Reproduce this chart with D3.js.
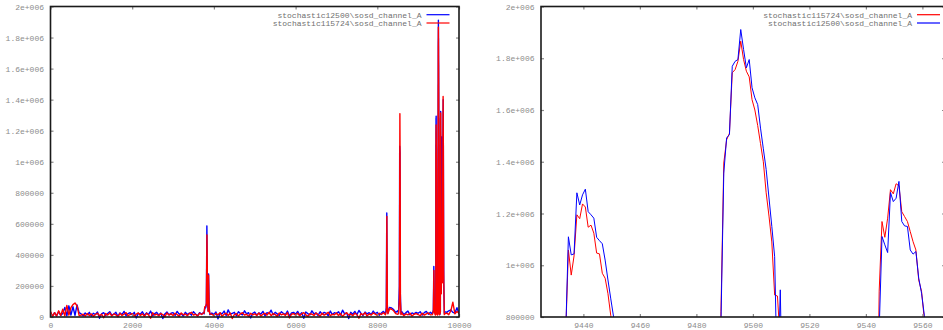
<!DOCTYPE html>
<html>
<head>
<meta charset="utf-8">
<script src="https://cdn.jsdelivr.net/npm/d3@7/dist/d3.min.js"></script>
<style>
    body { margin: 0; background: #fff; }
    svg { display: block; }
    .tick text { font-family: "Liberation Mono", "DejaVu Sans Mono", monospace; font-size: 8px; fill: #8c8c8c; }
    .tick line { stroke: #888; stroke-width: 1.2; }
    .legend-text { font-family: "Liberation Mono", "DejaVu Sans Mono", monospace; font-size: 8px; fill: #707070; }
</style>
</head>
<body>
<svg id="chart" width="943" height="330"></svg>
<script>
const blueLabel = "stochastic12500\\sosd_channel_A";
const redLabel = "stochastic115724\\sosd_channel_A";

// all values below are in thousands
// quiet baseline, one value every 50 samples (0 .. 10000)
const baseStep = 50;
const blueBase = [
    30, 5, 28, 8, 35, 10, 22, 62, 8, 72, 12, 66, 10, 78, 28, 20, 8, 26, 14, 30,
    6, 24, 16, 32, -8, 20, 28, 10, 22, 34, 12, 18, 30, 4, 26, 16, 36, 9, 22, 28,
    14, 30, -6, 24, 18, 34, 10, 27, 16, 38, 8, 22, 30, 12, 26, -10, 20, 32, 14, 24,
    28, 10, 36, 18, 22, 6, 30, 16, 26, 12, 34, 20, 8, 28, 18, 30, 24, 40, 22, 26,
    16, 32, -12, 26, 20, 38, 10, 46, 18, 24, 30, 8, 34, 22, 14, 40, 20, 28, -6, 24,
    32, 12, 26, 18, 36, 8, 28, 22, 44, 14, 30, 20, 10, 34, 24, 16, 38, 6, 26, 30,
    18, 36, 12, 28, -8, 32, 22, 14, 40, 20, 26, 10, 34, 18, 30, 24, 8, 38, 16, 28,
    22, 34, 12, 44, 20, 26, -10, 30, 18, 36, 14, 42, 24, 10, 32, 20, 28, 16, 38, 22,
    30, 12, 26, 36, 20, 28, 62, 58, 48, 30, 40, 22, 34, 16, 28, 38, 14, 26, 20, 30,
    24, 34, 12, 28, 36, 18, 30, 26, 22, 20, 15, 10, 25, 35, 30, 40, 45, 30, 25, 60,
    20
];
const redBase = [
    35, 4, 28, 6, 40, 10, 50, 8, 75, 12, 60, 80, 90, 72, 10, 12, 18, 6, 22, 10,
    20, 4, 16, 24, 8, 18, -5, 22, 12, 26, 6, 20, 14, 2, 24, 10, 18, 28, 8, 16,
    22, 6, 18, 26, 10, 20, 4, 24, 14, -8, 28, 12, 18, 8, 22, 16, 2, 26, 12, 20,
    10, 24, 16, 4, 26, 14, 20, 8, 22, 30, 12, 18, 6, 24, 16, 28, 10, 20, 14, 18,
    8, 22, 14, 28, 4, 18, 24, 10, 26, -10, 16, 22, 6, 20, 28, 12, 18, 4, 24, 14,
    20, 10, 26, 6, 18, 24, 12, 30, 8, 22, 16, 4, 26, 14, 20, 10, 28, -6, 18, 22,
    12, 24, 8, 20, 28, 14, 4, 22, 18, 10, 26, 16, 6, 24, 12, 20, 30, 8, 18, 14,
    26, 10, 22, 4, 18, 28, 12, 20, 8, 24, 16, -8, 22, 14, 28, 6, 20, 12, 26, 18,
    10, 24, 16, 28, 12, 20, 55, 50, 40, 22, 18, 12, 26, 8, 20, 14, 24, 6, 18, 22,
    16, 8, 24, 12, 20, 26, 14, 18, 10, 12, 8, 14, 30, 20, 25, 15, 40, 95, 20, 35,
    25
];

// isolated spikes, [sample, value]
const blue3800 = [[3760, 20], [3775, 55], [3800, 60], [3815, 80], [3828, 587], [3845, 110], [3856, 40], [3870, 277], [3885, 60], [3900, 15]];
const red3800 = [[3760, 25], [3776, 66], [3800, 70], [3816, 90], [3830, 529], [3846, 100], [3858, 35], [3868, 270], [3884, 50], [3900, 20]];
const blue8230 = [[8200, 20], [8220, 60], [8232, 670], [8244, 80], [8260, 25]];
const red8230 = [[8200, 15], [8222, 40], [8234, 647], [8246, 60], [8260, 20]];
const blue8555 = [[8520, 25], [8540, 200], [8548, 1100], [8556, 1060], [8564, 150], [8580, 20]];
const red8555 = [[8520, 20], [8542, 120], [8553, 1310], [8560, 900], [8566, 100], [8580, 15]];

// the three peaks of the zoomed panel, one value per sample
const peakAStart = 9432.7;
const blueA = [30, 720, 1110, 1040, 1044, 1280, 1233, 1272, 1294, 1207, 1195, 1182, 1108, 1095, 1083, 1020, 943, 870, 800, 700, 520, 300, 90, 30];
const redA = [30, 720, 1059, 962, 1036, 1195, 1180, 1237, 1225, 1147, 1155, 1124, 1047, 1044, 969, 950, 890, 805, 700, 550, 300, 80, 20];
const peakBStart = 9487.7;
const blueB = [30, 780, 1356, 1492, 1505, 1769, 1788, 1795, 1911, 1834, 1763, 1795, 1686, 1647, 1621, 1530, 1450, 1370, 1260, 1150, 1033, 500, 905, 300, 30];
const redB = [30, 820, 1395, 1485, 1510, 1744, 1756, 1788, 1866, 1795, 1750, 1728, 1640, 1600, 1540, 1470, 1400, 1280, 1190, 1090, 885, 881, 700, 30];
const peakCStart = 9543.7;
const blueC = [30, 750, 1111, 1079, 1049, 1281, 1246, 1259, 1324, 1169, 1152, 1150, 1059, 1043, 1053, 950, 892, 805, 700, 520, 300];
const redC = [30, 900, 1169, 1108, 1182, 1292, 1276, 1315, 1307, 1207, 1188, 1169, 1130, 1091, 1059, 943, 899, 790, 650, 450, 250];

// rest of the cluster around the zoomed window
const blueBefore = [[9350, 20], [9372, 45], [9384, 325], [9390, 180], [9398, 40], [9410, 30], [9422, 18]];
const redBefore = [[9350, 15], [9373, 40], [9386, 300], [9392, 140], [9400, 30], [9412, 20], [9424, 12]];
const blueGaps = [[9462, 25], [9475, 18], [9520, 22], [9532, 15]];
const redGaps = [[9463, 18], [9476, 12], [9521, 15], [9533, 20]];
const blueAfter = [[9567, 250], [9572, 700], [9578, 1160], [9584, 600], [9592, 280], [9600, 820], [9607, 1150], [9613, 1400], [9619, 950], [9627, 220], [9640, 25]];
const redAfter = [[9567, 150], [9576, 560], [9582, 320], [9592, 220], [9601, 880], [9611, 1420], [9617, 1100], [9624, 300], [9640, 15]];

const leftXTicks = [0, 2000, 4000, 6000, 8000, 10000];
const leftYTicks = [0, 200000, 400000, 600000, 800000, 1000000, 1200000, 1400000, 1600000, 1800000, 2000000];
const rightXTicks = [9440, 9460, 9480, 9500, 9520, 9540, 9560];
const rightYTicks = [800000, 1000000, 1200000, 1400000, 1600000, 1800000, 2000000];

function run(start, vals) {
    return vals.map((v, i) => [start + i, v]);
}

function buildSeries(base, segments) {
    const ranges = segments.map(s => d3.extent(s, d => d[0]));
    const pts = base.map((v, i) => [i * baseStep, v])
        .filter(p => !ranges.some(r => p[0] >= r[0] && p[0] <= r[1]));
    return pts.concat(...segments)
        .sort((a, b) => a[0] - b[0])
        .map(d => ({ x: d[0], y: d[1] * 1000 }));
}

const blueCluster = [].concat(blueBefore, run(peakAStart, blueA), blueGaps.slice(0, 2), run(peakBStart, blueB), blueGaps.slice(2), run(peakCStart, blueC), blueAfter);
const redCluster = [].concat(redBefore, run(peakAStart, redA), redGaps.slice(0, 2), run(peakBStart, redB), redGaps.slice(2), run(peakCStart, redC), redAfter);

const blueData = buildSeries(blueBase, [blue3800, blue8230, blue8555, blueCluster]);
const redData = buildSeries(redBase, [red3800, red8230, red8555, redCluster]);

const fmt = v => v >= 1000000 ? (v / 1000000) + "e+006" : String(v);

const svg = d3.select("#chart");

function drawPanel(p) {
    const g = svg.append("g");
    const [x0, x1] = p.x.range();
    const [y0, y1] = p.y.range();

    g.append("clipPath").attr("id", p.id)
        .append("rect")
        .attr("x", x0).attr("y", y1)
        .attr("width", x1 - x0).attr("height", y0 - y1 + p.below);

    const line = d3.line().x(d => p.x(d.x)).y(d => p.y(d.y));
    p.series.forEach(s => {
        g.append("path")
            .datum(s.data)
            .attr("clip-path", `url(#${p.id})`)
            .attr("fill", "none")
            .attr("stroke", s.color)
            .attr("stroke-width", p.lineWidth)
            .attr("stroke-linejoin", "round")
            .attr("d", line);
    });

    g.append("g").attr("transform", `translate(0,${y0})`)
        .call(d3.axisBottom(p.x).tickValues(p.xTicks).tickFormat(d3.format("d")).tickSize(-3).tickPadding(5));
    g.append("g").attr("transform", `translate(0,${y1})`)
        .call(d3.axisTop(p.x).tickValues(p.xTicks).tickFormat("").tickSize(-3));
    g.append("g").attr("transform", `translate(${x0},0)`)
        .call(d3.axisLeft(p.y).tickValues(p.yTicks).tickFormat(fmt).tickSize(-3).tickPadding(6.5));
    g.append("g").attr("transform", `translate(${x1},0)`)
        .call(d3.axisRight(p.y).tickValues(p.yTicks).tickFormat("").tickSize(-3));
    g.selectAll(".domain").remove();

    g.append("rect")
        .attr("x", x0).attr("y", y1)
        .attr("width", x1 - x0).attr("height", y0 - y1)
        .attr("fill", "none")
        .attr("stroke", "#1a1a1a")
        .attr("stroke-width", 1.6);

    p.series.forEach((s, i) => {
        const ly = 14.7 + i * 8.3;
        g.append("text")
            .attr("class", "legend-text")
            .attr("x", p.legendX)
            .attr("y", ly + 2.8)
            .attr("text-anchor", "end")
            .text(s.label);
        g.append("line")
            .attr("x1", p.legendX + 5).attr("x2", p.legendX + 28)
            .attr("y1", ly).attr("y2", ly)
            .attr("stroke", s.color)
            .attr("stroke-width", 1.2);
    });
}

const blueSeries = { data: blueData, color: "#0000ff", label: blueLabel };
const redSeries = { data: redData, color: "#ff0000", label: redLabel };

drawPanel({
    id: "clip-left",
    x: d3.scaleLinear().domain([0, 10000]).range([50.5, 459]),
    y: d3.scaleLinear().domain([0, 2000000]).range([317, 6.5]),
    xTicks: leftXTicks,
    yTicks: leftYTicks,
    below: 4,
    lineWidth: 1.4,
    legendX: 421.5,
    series: [blueSeries, redSeries]
});

drawPanel({
    id: "clip-right",
    x: d3.scaleLinear().domain([9425, 9568]).range([541, 945]),
    y: d3.scaleLinear().domain([800000, 2000000]).range([317, 6.5]),
    xTicks: rightXTicks,
    yTicks: rightYTicks,
    below: 0,
    lineWidth: 1,
    legendX: 912,
    series: [redSeries, blueSeries]
});
</script>
</body>
</html>
